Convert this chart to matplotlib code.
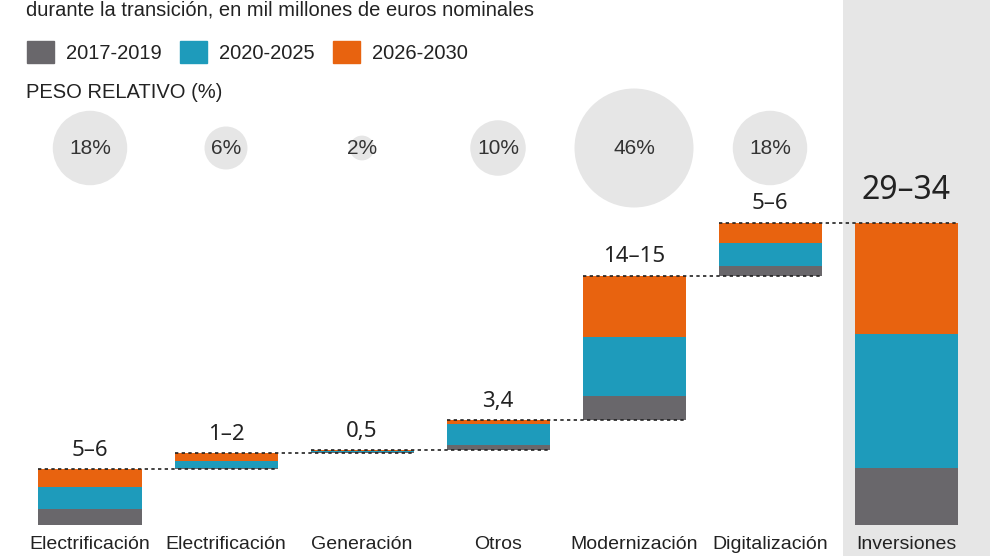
import matplotlib
import matplotlib.pyplot as plt
from matplotlib.patches import Patch

matplotlib.use("Agg")

categories = ["Electrificación", "Electrificación", "Generación", "Otros",
              "Modernización", "Digitalización", "Inversiones"]
periods = ["2017-2019", "2020-2025", "2026-2030"]
# step values (mil millones de euros), one list per period
gray_vals = [1.67, 0.05, 0.10, 0.52, 2.50, 1.04]
teal_vals = [2.29, 0.75, 0.15, 2.15, 6.20, 2.40]
orange_vals = [1.88, 0.83, 0.10, 0.42, 6.35, 2.08]
total_vals = [5.90, 14.00, 11.60]
value_labels = ["5–6", "1–2", "0,5", "3,4", "14–15", "5–6", "29–34"]
weights = [18, 6, 2, 10, 46, 18]
weight_labels = ["18%", "6%", "2%", "10%", "46%", "18%"]

colors = ["#69676b", "#1e9bbb", "#e8630f"]
W, H = 990, 556
PX_X = 136.0   # pixels per category
PX_Y = 9.6     # pixels per unit
X0, Y0 = 90, 31  # pixel position of first category / baseline (from bottom)
bar_w = 103 / PX_X

fig = plt.figure(figsize=(W / 100, H / 100), dpi=100)
ax = fig.add_axes([0, 0, 1, 1])
ax.set_xlim(-X0 / PX_X, (W - X0) / PX_X)
ax.set_ylim(-Y0 / PX_Y, (H - Y0) / PX_Y)
ax.axis("off")

n = len(gray_vals)
ax.axvspan(n - 63 / PX_X, ax.get_xlim()[1], color="#e6e6e6", zorder=0, lw=0)

# waterfall steps
bottom = 0.0
tops = []
for i in range(n):
    b = bottom
    for vals, c in zip([gray_vals, teal_vals, orange_vals], colors):
        ax.bar(i, vals[i], bar_w, bottom=b, color=c, zorder=2, lw=0)
        b += vals[i]
    tops.append(b)
    bottom = b

# total bar
b = 0.0
for v, c in zip(total_vals, colors):
    ax.bar(n, v, bar_w, bottom=b, color=c, zorder=2, lw=0)
    b += v
tops.append(b)

# dotted connectors
for i in range(n):
    ax.hlines(tops[i], i - bar_w / 2, i + 1 + bar_w / 2, colors="#222222",
              linestyles=(0, (2, 2)), lw=1.2, zorder=3)

# value labels
for i, (t, lab) in enumerate(zip(tops, value_labels)):
    big = i == n
    ax.annotate(lab, (i, t), xytext=(0, 11 if big else 6), textcoords="offset points",
                ha="center", va="bottom", fontsize=23 if big else 16,
                family="Noto Sans", color="#222222")

# bubbles for relative weight
cy = (H - 148 - Y0) / PX_Y
k = (119 * 0.72) ** 2 / 46
ax.scatter(range(n), [cy] * n, s=[w * k for w in weights], color="#e6e6e6",
           zorder=1, lw=0)
for i, lab in enumerate(weight_labels):
    ax.text(i, cy, lab, ha="center", va="center", fontsize=15,
            family="Liberation Sans", color="#333333", zorder=2)

# category labels
for i, lab in enumerate(categories):
    ax.text(i, (H - 536 - Y0) / PX_Y, lab, ha="center", va="top",
            fontsize=14, family="Liberation Sans", color="#222222")

fig.text(26 / W, 1 - 10 / H, "durante la transición, en mil millones de euros nominales",
         ha="left", va="center", fontsize=14.5, family="Liberation Sans", color="#222222")
fig.text(26 / W, 1 - 93 / H, "PESO RELATIVO (%)", ha="left", va="center",
         fontsize=14.5, family="Liberation Sans", color="#222222")

handles = [Patch(color=c, label=p) for c, p in zip(colors, periods)]
fig.legend(handles=handles, loc="center left", bbox_to_anchor=(27 / W, 1 - 52 / H),
           ncol=3, frameon=False, borderpad=0, borderaxespad=0,
           handlelength=1.34, handleheight=1.34, handletextpad=0.6,
           columnspacing=0.9, prop={"family": "Liberation Sans", "size": 14.5},
           labelcolor="#222222")

fig.savefig("out.png", dpi=100)
